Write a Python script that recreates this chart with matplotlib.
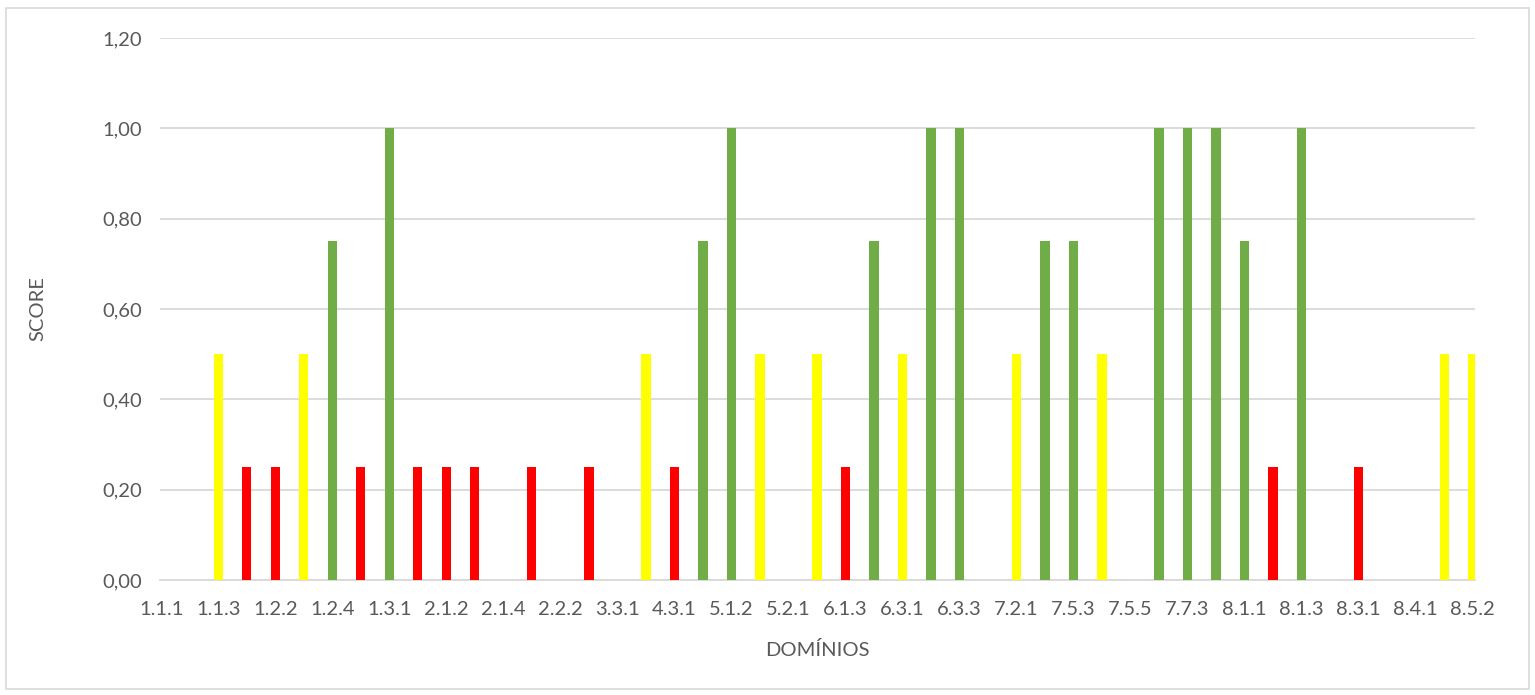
import matplotlib
matplotlib.use('Agg')
import matplotlib.pyplot as plt
from matplotlib.patches import Rectangle
from matplotlib.ticker import FuncFormatter

plt.rcParams['font.family'] = ['Lato', 'DejaVu Sans']

# Categories (odd ones are not labelled on the axis)
dominios = ['1.1.1', '1.1.2', '1.1.3', '1.2.1', '1.2.2', '1.2.3', '1.2.4', '1.2.5',
            '1.3.1', '2.1.1', '2.1.2', '2.1.3', '2.1.4', '2.2.1', '2.2.2', '3.1.1',
            '3.3.1', '4.1.1', '4.3.1', '5.1.1', '5.1.2', '5.1.3', '5.2.1', '6.1.2',
            '6.1.3', '6.2.1', '6.3.1', '6.3.2', '6.3.3', '7.1.1', '7.2.1', '7.5.2',
            '7.5.3', '7.5.4', '7.5.5', '7.7.2', '7.7.3', '7.7.4', '8.1.1', '8.1.2',
            '8.1.3', '8.2.1', '8.3.1', '8.3.2', '8.4.1', '8.5.1', '8.5.2']
score = [0, 0, 0.5, 0.25, 0.25, 0.5, 0.75, 0.25,
         1.0, 0.25, 0.25, 0.25, 0, 0.25, 0, 0.25,
         0, 0.5, 0.25, 0.75, 1.0, 0.5, 0, 0.5,
         0.25, 0.75, 0.5, 1.0, 1.0, 0, 0.5, 0.75,
         0.75, 0.5, 0, 1.0, 1.0, 1.0, 0.75, 0.25,
         1.0, 0, 0.25, 0, 0, 0.5, 0.5]


def cor(v):
    if v >= 0.75:
        return '#70AD47'
    if v >= 0.5:
        return '#FFFF00'
    return '#FF0000'


fig = plt.figure(figsize=(15.35, 6.95), dpi=100)
fig.patches.append(Rectangle((0.004, 0.008), 0.992, 0.98, transform=fig.transFigure,
                             fill=False, edgecolor='#D9D9D9', linewidth=1.2))
ax = fig.add_axes([0.1042, 0.1655, 0.857, 0.78])

x = list(range(len(dominios)))
ax.bar(x, score, width=0.32, color=[cor(v) for v in score], zorder=3)

ax.set_xlim(-0.05, len(dominios) - 0.9)
ax.set_ylim(0, 1.2)
ax.set_yticks([0, 0.2, 0.4, 0.6, 0.8, 1.0, 1.2])
ax.yaxis.set_major_formatter(FuncFormatter(lambda v, p: f'{v:.2f}'.replace('.', ',')))
ax.set_xticks(x[::2])
ax.set_xticklabels(dominios[::2])

ax.grid(axis='y', color='#D9D9D9', linewidth=1.3, zorder=0)
for s in ['top', 'right', 'left']:
    ax.spines[s].set_visible(False)
ax.spines['bottom'].set_color('#D9D9D9')
ax.spines['bottom'].set_linewidth(1.3)
ax.tick_params(axis='both', length=0, labelsize=14.5, colors='#595959')
ax.tick_params(axis='y', pad=13)
ax.tick_params(axis='x', pad=15)

ax.set_xlabel('DOMÍNIOS', fontsize=14.5, color='#595959', labelpad=17)
ax.set_ylabel('SCORE', fontsize=14.5, color='#595959', labelpad=40)

fig.savefig('out.png', dpi=100)
